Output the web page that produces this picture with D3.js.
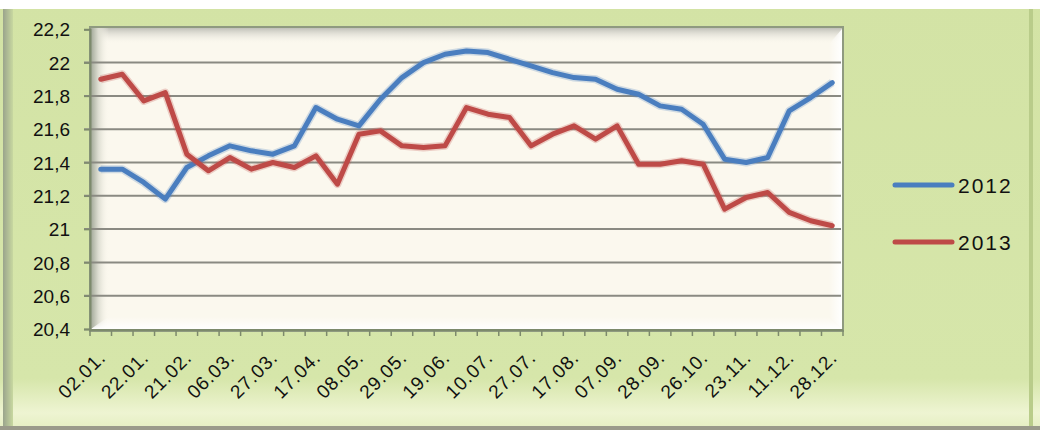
<!DOCTYPE html>
<html><head><meta charset="utf-8">
<script src="https://cdn.jsdelivr.net/npm/d3@7/dist/d3.min.js"></script>
<style>
html,body{margin:0;padding:0;background:#d3e3a5;}
svg{display:block;}
text{font-family:"Liberation Sans",Arial,sans-serif;fill:#111;}
</style></head>
<body>
<svg id="c" width="1040" height="430"></svg>
<script>
const categories = ["02.01.","11.01.","22.01.","05.02.","21.02.","27.02.","06.03.","16.03.","27.03.","06.04.",
  "17.04.","27.04.","08.05.","18.05.","29.05.","08.06.","19.06.","29.06.","10.07.","18.07.",
  "27.07.","06.08.","17.08.","28.08.","07.09.","18.09.","28.09.","12.10.","26.10.","09.11.",
  "23.11.","30.11.","11.12.","20.12.","28.12."];
const labelEvery = 2;
const series2012 = [21.36,21.36,21.28,21.18,21.37,21.44,21.50,21.47,21.45,21.50,
  21.73,21.66,21.62,21.78,21.91,22.00,22.05,22.07,22.06,22.02,
  21.98,21.94,21.91,21.90,21.84,21.81,21.74,21.72,21.63,21.42,
  21.40,21.43,21.71,21.79,21.88];
const series2013 = [21.90,21.93,21.77,21.82,21.45,21.35,21.43,21.36,21.40,21.37,
  21.44,21.27,21.57,21.59,21.50,21.49,21.50,21.73,21.69,21.67,
  21.50,21.57,21.62,21.54,21.62,21.39,21.39,21.41,21.39,21.12,
  21.19,21.22,21.10,21.05,21.02];
const yTicks = [20.4,20.6,20.8,21,21.2,21.4,21.6,21.8,22,22.2];
const seriesNames = ["2012","2013"];
const seriesColors = ["#4a7ebf","#be4a47"];

const svg = d3.select("#c");
const defs = svg.append("defs");
function lg(id, x1,y1,x2,y2, stops){
  const g = defs.append("linearGradient").attr("id",id).attr("x1",x1).attr("y1",y1).attr("x2",x2).attr("y2",y2);
  stops.forEach(s=>g.append("stop").attr("offset",s[0]).attr("stop-color",s[1]).attr("stop-opacity",s[2]==null?1:s[2]));
}
lg("bgG",0,0,0,1,[[0,"#d3e3a5"],[0.88,"#d6e6aa"],[0.96,"#eef4d2"],[1,"#e4eec0"]]);
lg("leftW",0,0,1,0,[[0,"#a4aa9a"],[0.4,"#dcdcd0"],[1,"#fbf8ee",0]]);
lg("topW",0,0,0,1,[[0,"#c0c0b8"],[1,"#fbf8ee",0]]);
lg("botW",0,0,0,1,[[0,"#ffffff",0],[1,"#ffffff"]]);
lg("rightW",0,0,1,0,[[0,"#ffffff",0],[1,"#ffffff"]]);
lg("leftB",0,0,1,0,[[0,"#9aa48c"],[1,"#c8d8a0"]]);

// background
svg.append("rect").attr("width",1040).attr("height",430).attr("fill","url(#bgG)");
svg.append("rect").attr("x",0).attr("y",0).attr("width",1040).attr("height",9).attr("fill","#ffffff");
svg.append("rect").attr("x",3).attr("y",9).attr("width",10).attr("height",418).attr("fill","url(#leftB)");
svg.append("rect").attr("x",1029).attr("y",9).attr("width",4).attr("height",418).attr("fill","#b9cc8a");
svg.append("rect").attr("x",0).attr("y",426).attr("width",1040).attr("height",4).attr("fill","#9a9a8a");

const x0 = 90, x1 = 843, yTop = 29.3, yBot = 329;
const x = d3.scaleBand().domain(categories).range([x0,x1]).padding(0);
const y = d3.scaleLinear().domain([20.4,22.2]).range([yBot,yTop]);

// plot panel
const panel = svg.append("g");
panel.append("rect").attr("x",x0).attr("y",27).attr("width",x1-x0).attr("height",yBot-27+2)
  .attr("fill","#fbf8ee").attr("stroke","#8f9a80").attr("stroke-width",2);
panel.append("rect").attr("x",x0+1).attr("y",28).attr("width",x1-x0-2).attr("height",16).attr("fill","url(#topW)");
panel.append("rect").attr("x",x0+1).attr("y",28).attr("width",18).attr("height",yBot-28).attr("fill","url(#leftW)");
panel.append("path").attr("d",`M${x0+1},${yBot} L${x0+18},${yBot-12} L${x1-14},${yBot-12} L${x1-1},${yBot} Z`).attr("fill","url(#botW)");
panel.append("path").attr("d",`M${x1-1},29 L${x1-14},44 L${x1-14},${yBot-12} L${x1-1},${yBot} Z`).attr("fill","url(#rightW)");

// gridlines
svg.append("g").selectAll("line").data(yTicks.slice(1,-1)).join("line")
  .attr("x1",x0-6).attr("x2",x1-2).attr("y1",d=>y(d)).attr("y2",d=>y(d))
  .attr("stroke","#8a8a82").attr("stroke-width",2);

// y axis
const yAxis = d3.axisLeft(y).tickValues(yTicks).tickSize(6).tickPadding(14)
  .tickFormat(d=>String(d3.format(".1f")(d)).replace(/\.0$/,"").replace(".",","));
const gy = svg.append("g").attr("transform",`translate(${x0},0)`).call(yAxis);
gy.select(".domain").attr("stroke","#7d8a6c").attr("stroke-width",2);
gy.selectAll(".tick line").attr("stroke","#7d8a6c").attr("stroke-width",1.5);
gy.selectAll("text").attr("font-size",19).attr("fill","#111").attr("dy","0.35em");

// x axis
const gx = svg.append("g").attr("transform",`translate(0,${yBot+1})`);
gx.append("line").attr("x1",x0).attr("x2",x1).attr("y1",0).attr("y2",0).attr("stroke","#7d8a6c").attr("stroke-width",2);
const bounds = categories.map(c=>x(c)).concat([x1]);
gx.selectAll("line.t").data(bounds).join("line").attr("class","t")
  .attr("x1",d=>d).attr("x2",d=>d).attr("y1",0).attr("y2",6).attr("stroke","#7d8a6c").attr("stroke-width",1.5);
gx.selectAll("text").data(categories.filter((c,i)=>i%labelEvery===0)).join("text")
  .attr("transform",d=>`translate(${x(d)+x.bandwidth()/2+6},${29}) rotate(-45)`)
  .attr("text-anchor","end").attr("font-size",19).attr("letter-spacing","0.8px").text(d=>d);

// lines
const line = d3.line().x((d,i)=>x(categories[i])+x.bandwidth()/2).y(d=>y(d));
[series2012, series2013].forEach((s,k)=>{
  svg.append("path").datum(s).attr("d",line).attr("fill","none")
    .attr("stroke",seriesColors[k]).attr("stroke-opacity",0.25).attr("stroke-width",8).attr("stroke-linejoin","round");
  svg.append("path").datum(s).attr("d",line).attr("fill","none")
    .attr("stroke",seriesColors[k]).attr("stroke-width",5).attr("stroke-linejoin","round").attr("stroke-linecap","round");
});

// legend
const leg = svg.append("g");
seriesNames.forEach((n,k)=>{
  const ly = 185 + k*57;
  leg.append("line").attr("x1",895).attr("x2",952).attr("y1",ly).attr("y2",ly)
    .attr("stroke",seriesColors[k]).attr("stroke-width",5).attr("stroke-linecap","round");
  leg.append("text").attr("x",958).attr("y",ly).attr("dy","0.36em").attr("font-size",21).attr("letter-spacing","2px").text(n);
});
</script>
</body></html>
